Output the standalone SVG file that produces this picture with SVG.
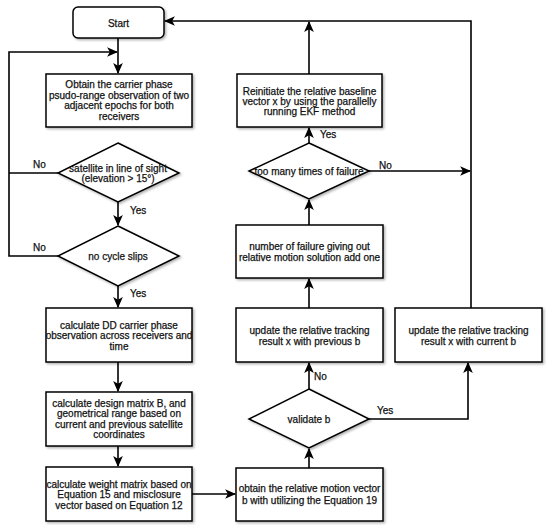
<svg xmlns="http://www.w3.org/2000/svg" width="550" height="531" viewBox="0 0 550 531">
<defs>
<style>
.n{fill:#fff;stroke:#000;stroke-width:1.5;filter:url(#sh)}
.t{font-family:"Liberation Sans",Arial,sans-serif;font-size:10px;fill:#111;stroke:#111;stroke-width:0.25;text-anchor:middle}
.l{font-family:"Liberation Sans",Arial,sans-serif;font-size:10px;fill:#111;stroke:#111;stroke-width:0.25}
.c{fill:none;stroke:#000;stroke-width:1.6}
.a{marker-end:url(#ah)}
</style>
<filter id="sh" x="-10%" y="-10%" width="130%" height="130%">
<feDropShadow dx="1.5" dy="1.5" stdDeviation="0.8" flood-color="#000" flood-opacity="0.3"/>
</filter>
<marker id="ah" markerWidth="11" markerHeight="11" viewBox="0 0 10 10" refX="9" refY="5" orient="auto" markerUnits="userSpaceOnUse">
<path d="M0,0.6 L10,5 L0,9.4 L2.5,5 z" fill="#000"/>
</marker>
</defs>
<rect width="550" height="531" fill="#fff"/>

<g id="connectors">
<path class="c a" d="M118,38 V73"/>
<path class="c" d="M58,173 H9"/>
<path class="c a" d="M58,256 H9 V52 H117"/>
<path class="c a" d="M118,202 V225"/>
<path class="c a" d="M118,286 V307"/>
<path class="c a" d="M118,362 V391"/>
<path class="c a" d="M118,446 V466"/>
<path class="c a" d="M192,494 H235"/>
<path class="c a" d="M309,468 V449"/>
<path class="c a" d="M309,389 V363"/>
<path class="c a" d="M369,419 H468 V363"/>
<path class="c a" d="M309,308 V279"/>
<path class="c a" d="M309,225 V200"/>
<path class="c a" d="M309,143 V128"/>
<path class="c a" d="M309,74 V22"/>
<path class="c a" d="M369,171 H470"/>
<path class="c a" d="M471,308 V21 H165"/>
<text class="l" x="33" y="168">No</text>
<text class="l" x="33" y="251">No</text>
<text class="l" x="130" y="214">Yes</text>
<text class="l" x="130" y="297">Yes</text>
<text class="l" x="314" y="380">No</text>
<text class="l" x="377" y="414">Yes</text>
<text class="l" x="379" y="169">No</text>
<text class="l" x="320" y="138">Yes</text>
</g>

<g id="start">
<rect class="n" x="73" y="7" width="91" height="31" rx="5"/>
<text class="t" x="118.5" y="26.5">Start</text>
</g>

<g id="obtain">
<rect class="n" x="46" y="74" width="146" height="53"/>
<text class="t" x="119" y="88">Obtain the carrier phase</text>
<text class="t" x="119" y="98.7">psudo-range observation of two</text>
<text class="t" x="119" y="109.3">adjacent epochs for both</text>
<text class="t" x="119" y="120">receivers</text>
</g>

<g id="los">
<polygon class="n" points="118,143 179,173 118,202 58,173"/>
<text class="t" x="118" y="171.5">satellite in line of sight</text>
<text class="t" x="118" y="182">(elevation &gt; 15°)</text>
</g>

<g id="cycle">
<polygon class="n" points="118,226 179,256 118,286 58,256"/>
<text class="t" x="118" y="259.5">no cycle slips</text>
</g>

<g id="dd">
<rect class="n" x="46" y="308" width="146" height="54"/>
<text class="t" x="119" y="328.5">calculate DD carrier phase</text>
<text class="t" x="119" y="339">observation across receivers and</text>
<text class="t" x="119" y="349.5">time</text>
</g>

<g id="design">
<rect class="n" x="46" y="392" width="146" height="54"/>
<text class="t" x="119" y="406.8">calculate design matrix B, and</text>
<text class="t" x="119" y="417.3">geometrical range based on</text>
<text class="t" x="119" y="427.8">current and previous satellite</text>
<text class="t" x="119" y="438.3">coordinates</text>
</g>

<g id="weight">
<rect class="n" x="46" y="467" width="146" height="54"/>
<text class="t" x="119" y="487.5">calculate weight matrix based on</text>
<text class="t" x="119" y="498">Equation 15 and misclosure</text>
<text class="t" x="119" y="508.5">vector based on Equation 12</text>
</g>

<g id="motion">
<rect class="n" x="236" y="468" width="147" height="53"/>
<text class="t" x="309.5" y="492">obtain the relative motion vector</text>
<text class="t" x="309.5" y="503.5">b with utilizing the Equation 19</text>
</g>

<g id="validate">
<polygon class="n" points="309,389 369,419 309,448 249,419"/>
<text class="t" x="309" y="422.5">validate b</text>
</g>

<g id="prev">
<rect class="n" x="236" y="308" width="147" height="54"/>
<text class="t" x="309.5" y="333.5">update the relative tracking</text>
<text class="t" x="309.5" y="344.5">result x with previous b</text>
</g>

<g id="current">
<rect class="n" x="395" y="308" width="147" height="54"/>
<text class="t" x="468.5" y="333.5">update the relative tracking</text>
<text class="t" x="468.5" y="344.5">result x with current b</text>
</g>

<g id="failure">
<rect class="n" x="236" y="225" width="147" height="53"/>
<text class="t" x="309.5" y="249.5">number of failure giving out</text>
<text class="t" x="309.5" y="260.5">relative motion solution add one</text>
</g>

<g id="toomany">
<polygon class="n" points="309,143 369,171 309,199 249,171"/>
<text class="t" x="309" y="174.5">too many times of failure</text>
</g>

<g id="reinit">
<rect class="n" x="237" y="74" width="145" height="53"/>
<text class="t" x="309.5" y="94.5">Reinitiate the relative baseline</text>
<text class="t" x="309.5" y="104.5">vector x by using the parallelly</text>
<text class="t" x="309.5" y="114.5">running EKF method</text>
</g>
</svg>
